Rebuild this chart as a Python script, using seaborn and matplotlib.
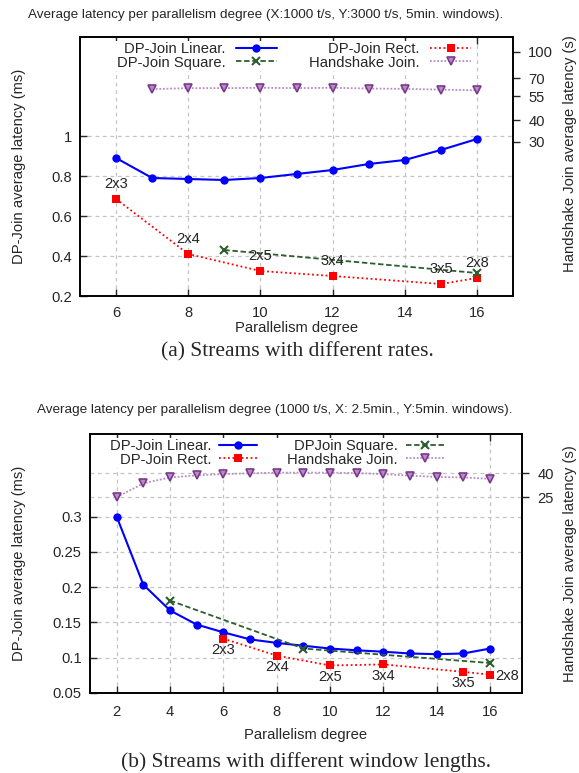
import matplotlib
matplotlib.use("Agg")
import matplotlib.pyplot as plt
import seaborn as sns

# (a) streams with different rates
rate_par = [6, 7, 8, 9, 10, 11, 12, 13, 14, 15, 16]
rate_linear = [0.89, 0.79, 0.785, 0.78, 0.79, 0.81, 0.83, 0.86, 0.88, 0.93, 0.985]
rate_rect_par = [6, 8, 10, 12, 15, 16]
rate_rect = [0.685, 0.41, 0.325, 0.30, 0.26, 0.29]
rate_rect_cfg = ["2x3", "2x4", "2x5", "3x4", "3x5", "2x8"]
rate_square_par = [9, 16]
rate_square = [0.43, 0.315]
rate_hs_par = [7, 8, 9, 10, 11, 12, 13, 14, 15, 16]
rate_hs = [60.7, 61.5, 61.5, 61.8, 61.5, 61.8, 61.2, 60.9, 60.3, 59.7]

# (b) streams with different window lengths
win_par = [2, 3, 4, 5, 6, 7, 8, 9, 10, 11, 12, 13, 14, 15, 16]
win_linear = [0.30, 0.2035, 0.167, 0.147, 0.136, 0.126, 0.121, 0.117, 0.113,
              0.1105, 0.1085, 0.106, 0.105, 0.106, 0.113]
win_rect_par = [6, 8, 10, 12, 15, 16]
win_rect = [0.127, 0.103, 0.089, 0.0905, 0.080, 0.076]
win_rect_cfg = ["2x3", "2x4", "2x5", "3x4", "3x5", "2x8"]
win_square_par = [4, 9, 16]
win_square = [0.181, 0.113, 0.0925]
win_hs = [25, 32.7, 36.7, 38.2, 39.2, 39.8, 40.3, 40.3, 40.3, 40, 39.2, 38,
          37.1, 36.7, 35.7]

BLUE = "#0000ff"
RED = "#ff0000"
GREEN = "#2d5e2d"
PURPLE = "#7a3a8c"
PURPLE_LIGHT = "#b98ac8"
GRID = "#c4c4c4"
FS = 10.6

sns.set_style("ticks")
plt.rcParams["font.family"] = ["Liberation Sans", "DejaVu Sans"]
plt.rcParams["axes.edgecolor"] = "black"
plt.rcParams["axes.linewidth"] = 1.2


def draw_series(ax, ax2, lin, rect, square, hs):
    sns.lineplot(x=lin[0], y=lin[1], ax=ax, color=BLUE, marker="o", markersize=6,
                 markeredgewidth=0, linewidth=1.5, zorder=4)
    sns.lineplot(x=rect[0], y=rect[1], ax=ax, color=RED, marker="s", markersize=6,
                 markeredgewidth=0, linewidth=1.3, linestyle=(0, (1, 1.5)), zorder=4)
    sns.lineplot(x=square[0], y=square[1], ax=ax, color=GREEN, marker="x", markersize=6,
                 markeredgecolor=GREEN, markeredgewidth=1.5, linewidth=1.3,
                 linestyle=(0, (3, 1.5)), zorder=4)
    sns.lineplot(x=hs[0], y=hs[1], ax=ax2, color=PURPLE_LIGHT, marker="v", markersize=6,
                 markerfacecolor=PURPLE_LIGHT, markeredgecolor=PURPLE, markeredgewidth=1.2,
                 linewidth=1.3, linestyle=(0, (1, 1)), zorder=4)
    for a in (ax, ax2):
        if a.get_legend() is not None:
            a.get_legend().remove()
    lines = ax.get_lines()
    return lines[0], lines[1], lines[2], ax2.get_lines()[0]


def style_axes(ax, ax2, xlim, xticks, ylim, yticks, y2lim, y2ticks, xpad, xlabelpad):
    ax.set_xlim(*xlim)
    ax.set_xticks(xticks)
    ax.set_ylim(*ylim)
    ax.set_yticks(yticks)
    ax.set_yticklabels([f"{v:g}" for v in yticks])
    ax.tick_params(axis="x", direction="in", top=True, length=5, width=1, pad=xpad,
                   labelsize=FS)
    ax.tick_params(axis="y", direction="in", right=False, length=5, width=1, pad=6,
                   labelsize=FS)
    ax.grid(True, linestyle=(0, (3, 3)), color=GRID, linewidth=0.9)
    ax.set_axisbelow(True)
    ax2.set_yscale("log")
    ax2.set_ylim(*y2lim)
    ax2.set_yticks(y2ticks)
    ax2.set_yticklabels([str(v) for v in y2ticks])
    ax2.minorticks_off()
    ax2.tick_params(axis="y", direction="out", length=5, width=1, pad=6, labelsize=FS)
    ax.set_xlabel("Parallelism degree", fontsize=FS, labelpad=xlabelpad)
    ax.set_ylabel("DP-Join average latency (ms)", fontsize=FS)
    ax2.set_ylabel("Handshake Join average latency (s)", fontsize=FS)


fig = plt.figure(figsize=(5.79, 7.73), dpi=100)

# ---- top chart ----
ax = fig.add_axes([80 / 579, 1 - 296 / 773, 433 / 579, 259 / 773])
ax2 = ax.twinx()
h_lin, h_rect, h_sq, h_hs = draw_series(
    ax, ax2, (rate_par, rate_linear), (rate_rect_par, rate_rect),
    (rate_square_par, rate_square), (rate_hs_par, rate_hs))
style_axes(ax, ax2, (5, 17), [6, 8, 10, 12, 14, 16], (0.2, 1.495),
           [0.2, 0.4, 0.6, 0.8, 1.0], (3.8, 122), [100, 70, 55, 40, 30], 7, 1)
for x, y, cfg in zip(rate_rect_par, rate_rect, rate_rect_cfg):
    ax.annotate(cfg, (x, y), xytext=(0, 11), textcoords="offset points",
                ha="center", va="center", fontsize=FS, zorder=6)
ax.yaxis.set_label_coords(-0.125, 0.5)
ax2.yaxis.set_label_coords(1.115, 0.55)
ax2.legend([h_lin, h_sq, h_rect, h_hs],
           ["DP-Join Linear.", "DP-Join Square.", "DP-Join Rect.", "Handshake Join."],
           ncol=2, markerfirst=False, loc="upper left", bbox_to_anchor=(0.081, 0.985),
           borderaxespad=0, borderpad=0.1, fontsize=FS, handlelength=2.8,
           handletextpad=0.7, columnspacing=2.2, labelspacing=-0.05,
           frameon=True, facecolor="white", edgecolor="none", framealpha=1,
           fancybox=False)
fig.text(266 / 579, 1 - 15 / 773,
         "Average latency per parallelism degree (X:1000 t/s, Y:3000 t/s, 5min. windows).",
         ha="center", va="center", fontsize=9.7)
fig.text(297 / 579, 1 - 352 / 773, "(a) Streams with different rates.",
         ha="center", va="center", fontsize=15.5, family="Liberation Serif")

# ---- bottom chart ----
bx = fig.add_axes([90 / 579, 1 - 693 / 773, 432 / 579, 259 / 773])
bx2 = bx.twinx()
h_lin, h_rect, h_sq, h_hs = draw_series(
    bx, bx2, (win_par, win_linear), (win_rect_par, win_rect),
    (win_square_par, win_square), (win_par, win_hs))
style_axes(bx, bx2, (1, 17.2), list(range(2, 17, 2)), (0.05, 0.417),
           [0.05, 0.1, 0.15, 0.2, 0.25, 0.3], (0.55, 85.6), [40, 25], 9, 6)
bx2.grid(True, axis="y", linestyle=(0, (3, 3)), color=GRID, linewidth=0.9)
bx2.set_axisbelow(True)
for x, y, cfg in zip(win_rect_par, win_rect, win_rect_cfg):
    off = (12.5, -1) if cfg == "2x8" else (0, -8)
    bx.annotate(cfg, (x, y), xytext=off, textcoords="offset points",
                ha="center", va="center", fontsize=FS, zorder=6)
bx.yaxis.set_label_coords(-0.148, 0.5)
bx2.yaxis.set_label_coords(1.095, 0.5)
bx2.legend([h_lin, h_rect, h_sq, h_hs],
           ["DP-Join Linear.", "DP-Join Rect.", "DPJoin Square.", "Handshake Join."],
           ncol=2, markerfirst=False, loc="upper left", bbox_to_anchor=(0.042, 0.985),
           borderaxespad=0, borderpad=0.1, fontsize=FS, handlelength=2.6,
           handletextpad=0.55, columnspacing=2.0, labelspacing=-0.05,
           frameon=True, facecolor="white", edgecolor="none", framealpha=1,
           fancybox=False)
fig.text(275 / 579, 1 - 410 / 773,
         "Average latency per parallelism degree (1000 t/s, X: 2.5min., Y:5min. windows).",
         ha="center", va="center", fontsize=9.7)
fig.text(306 / 579, 1 - 762 / 773, "(b) Streams with different window lengths.",
         ha="center", va="center", fontsize=15.5, family="Liberation Serif")

fig.savefig("out.png", dpi=100)
